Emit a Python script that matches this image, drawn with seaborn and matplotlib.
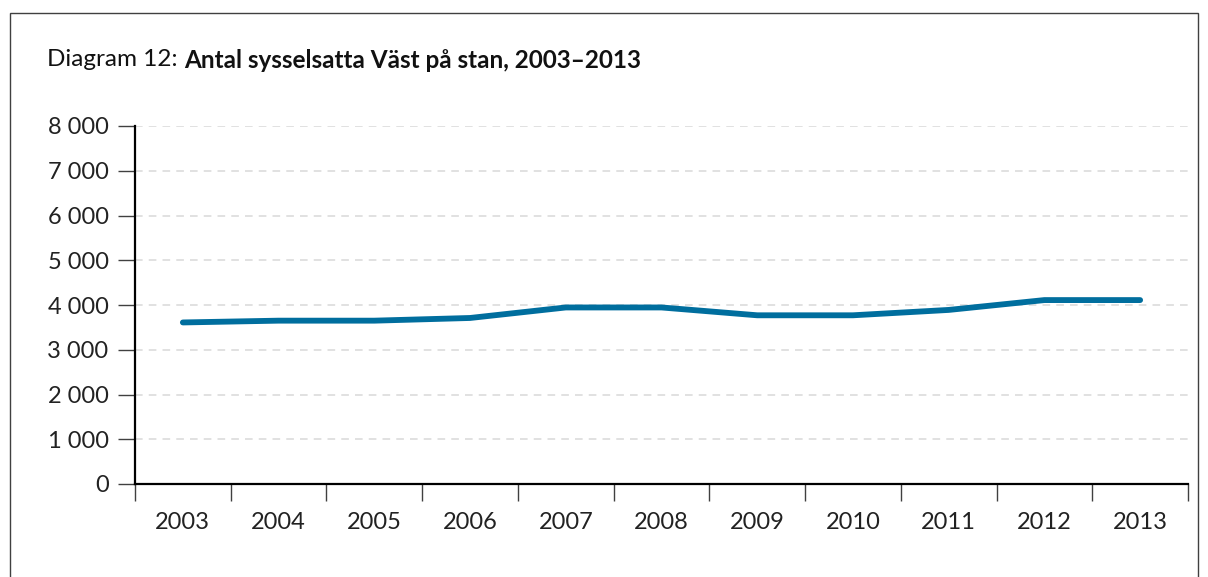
import numpy as np
import matplotlib
matplotlib.use("Agg")
import matplotlib.pyplot as plt
import seaborn as sns
import pandas as pd
from matplotlib.patches import Rectangle
from matplotlib.ticker import FuncFormatter, FixedLocator

years = [2003, 2004, 2005, 2006, 2007, 2008, 2009, 2010, 2011, 2012, 2013]
employed = [3610, 3650, 3650, 3710, 3945, 3945, 3770, 3770, 3890, 4110, 4110]

df = pd.DataFrame({"year": years, "antal": employed})

sns.set_style("white")
plt.rcParams["font.family"] = ["Lato", "DejaVu Sans"]

fig = plt.figure(figsize=(12.08, 5.77), dpi=100)
ax = fig.add_axes([135 / 1208, 1 - 484 / 577, (1188 - 135) / 1208, (484 - 126) / 577])

sns.lineplot(data=df, x="year", y="antal", ax=ax, color="#006e9e", linewidth=4.2,
             solid_capstyle="round", solid_joinstyle="round")

ax.set_xlim(2002.5, 2013.5)
ax.set_ylim(0, 8000)
ax.set_xlabel("")
ax.set_ylabel("")

ax.yaxis.set_major_locator(FixedLocator(np.arange(0, 8001, 1000)))
ax.yaxis.set_major_formatter(FuncFormatter(lambda v, p: f"{int(v):,}".replace(",", " ")))
ax.grid(axis="y", color="#d9d9d9", linestyle=(0, (5, 4)), linewidth=1.1)
ax.set_axisbelow(True)

ax.xaxis.set_major_locator(FixedLocator(np.arange(2002.5, 2014, 1)))
ax.xaxis.set_major_formatter(FuncFormatter(lambda v, p: ""))
ax.xaxis.set_minor_locator(FixedLocator(years))
ax.xaxis.set_minor_formatter(FuncFormatter(lambda v, p: str(int(round(v)))))
ax.tick_params(axis="x", which="major", bottom=True, direction="out", length=12, width=1,
               color="#404040")
ax.tick_params(axis="x", which="minor", bottom=True, length=0, pad=20, labelsize=17,
               labelcolor="#222222")
ax.tick_params(axis="y", left=True, direction="out", length=12, width=1, color="#404040",
               labelsize=17, labelcolor="#222222", pad=7)

for s in ["top", "right"]:
    ax.spines[s].set_visible(False)
ax.spines["left"].set_linewidth(1.6)
ax.spines["bottom"].set_linewidth(1.6)
ax.spines["left"].set_color("black")
ax.spines["bottom"].set_color("black")

fig.patches.append(Rectangle((10 / 1208, -0.05), (1198 - 10) / 1208, 1.05 - 13 / 577,
                             transform=fig.transFigure, fill=False,
                             edgecolor="#404040", linewidth=1.0))

t1 = fig.text(47 / 1208, 1 - 60 / 577, "Diagram 12: ", fontsize=17.5, fontweight="normal",
              color="#111111", va="center", ha="left")
fig.canvas.draw()
bb = t1.get_window_extent(renderer=fig.canvas.get_renderer())
x2 = fig.transFigure.inverted().transform((bb.x1, bb.y0))[0]
fig.text(x2, 1 - 60 / 577, "Antal sysselsatta Väst på stan, 2003–2013", fontsize=17.5,
         fontweight="bold", color="#111111", va="center", ha="left")

fig.savefig("out.png", dpi=100)
